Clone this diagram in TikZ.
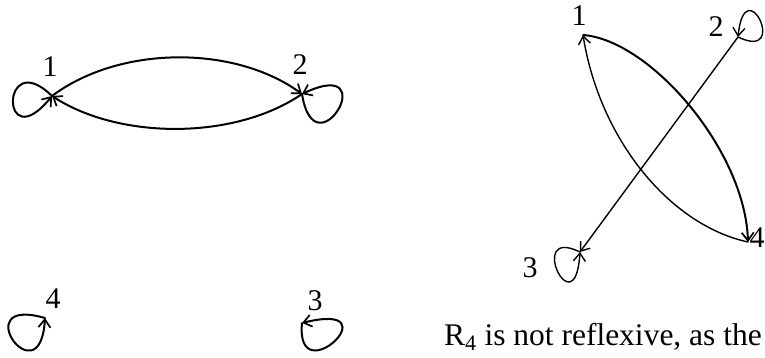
\documentclass[tikz,border=0pt]{standalone}
\usepackage{fontspec}
\setmainfont{Liberation Serif}
\usetikzlibrary{arrows.meta}
\begin{document}
\begin{tikzpicture}[x=1pt,y=-1pt,
  edge/.style={line width=2pt,line cap=round,-{Straight Barb[length=8pt,width=12pt,line width=1.7pt]}},
  thinedge/.style={line width=1.4pt,line cap=round,-{Straight Barb[length=8pt,width=12pt,line width=1.4pt]}},
  lab/.style={inner sep=0pt,font=\fontsize{30}{36}\selectfont}]
\useasboundingbox (0,0) rectangle (765,357);
% left graph vertices
\coordinate (L1) at (52,96);
\coordinate (L2) at (302,94);
\coordinate (L4) at (45,318);
\coordinate (L3) at (302,323);
\node[lab] (l1) at (50,67) {1};
\node[lab] (l2) at (300,65) {2};
\node[lab] (l4) at (53,299) {4};
\node[lab] (l3) at (315,301) {3};
\draw[edge] (L1) .. controls (120,45) and (235,45) .. (L2);
\draw[edge] (L2) .. controls (235,140) and (120,140) .. (L1);
\draw[edge] (L1) .. controls (0,45) and (0,160) .. (L1);
\draw[edge] (L2) .. controls (315,175) and (385,55) .. (L2);
\draw[edge] (L4) .. controls (-35,295) and (40,400) .. (L4);
\draw[edge] (L3) .. controls (295,395) and (395,300) .. (L3);
% right graph vertices
\coordinate (R1) at (583,35);
\coordinate (R2) at (738,37);
\coordinate (R3) at (580,252);
\coordinate (R4) at (748,242);
\node[lab] (r1) at (579,16) {1};
\node[lab] (r2) at (716,27) {2};
\node[lab] (r3) at (530,268) {3};
\node[lab] (r4) at (757,238) {4};
\draw[thinedge] (R2) -- (R3);
\draw[edge] (R1) .. controls (650,40) and (745,150) .. (R4);
\draw[thinedge] (R4) .. controls (670,225) and (600,140) .. (R1);
\draw[thinedge] (R2) .. controls (790,62) and (745,-32) .. (R2);
\draw[thinedge] (R3) .. controls (525,225) and (575,330) .. (R3);
% text
\node[inner sep=0pt,font=\fontsize{31.5}{38}\selectfont,anchor=base east] (txt) at (762,345) {R\textsubscript{4} is not reflexive, as the};
\end{tikzpicture}
\end{document}
